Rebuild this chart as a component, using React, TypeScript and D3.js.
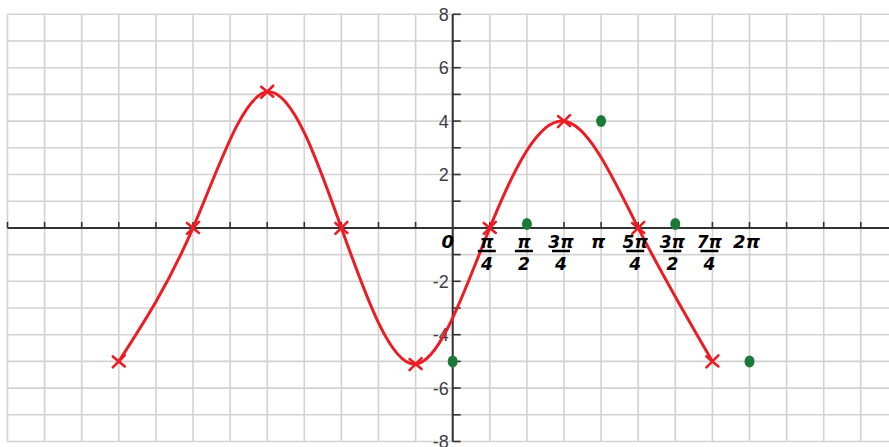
import React from "react";
import * as d3 from "d3";

// Sketched curve: x in grid units (each unit is π/4), y value
const curveX = [-9, -7, -5, -3, -1, 1, 3, 5, 7];
const curveY = [-5, 0, 5.1, 0, -5.1, 0, 4, 0, -5];

// Green plotted points
const dotX = [0, 2, 4, 6, 8];
const dotY = [-5, 0.15, 4, 0.15, -5];

// Printed y-axis tick labels
const yLabels = [8, 6, 4, 2, -2, -4, -6, -8];

// Handwritten x labels (numerator / optional denominator)
const xLabelPos = [0, 1, 2, 3, 4, 5, 6, 7, 8];
const xLabelNum = ["0", "π", "π", "3π", "π", "5π", "3π", "7π", "2π"];
const xLabelDen = ["", "4", "2", "4", "", "4", "2", "4", ""];

const W = 889;
const H = 447;

export default function App() {
  const x = d3.scaleLinear().domain([-12, 12]).range([7.5, 897.9]);
  const y = d3.scaleLinear().domain([-8, 8]).range([441.5, 14.3]);

  const gridX = d3.range(-12, 12);
  const gridY = d3.range(-8, 9);

  const pts: [number, number][] = curveX.map((v, i) => [x(v), y(curveY[i])]);
  const line = d3.line().curve(d3.curveNatural)(pts) || "";

  const red = "#ec1c24";
  const green = "#1b7a37";
  const axis = "#333333";

  return (
    <svg
      width={W}
      height={H}
      style={{ position: "absolute", left: 0, top: 0, background: "#fff" }}
    >
      {/* grid */}
      <g stroke="#d2d2d2" strokeWidth={1.6}>
        {gridX.map((g) => (
          <line key={"gx" + g} x1={x(g)} x2={x(g)} y1={y(8)} y2={y(-8)} />
        ))}
        {gridY.map((g) => (
          <line key={"gy" + g} x1={x(-12)} x2={W} y1={y(g)} y2={y(g)} />
        ))}
      </g>

      {/* x axis with upward ticks */}
      <g stroke={axis}>
        <line x1={x(-12)} x2={W} y1={y(0)} y2={y(0)} strokeWidth={2} />
        {gridX.map((g) =>
          g === 0 ? null : (
            <line key={"tx" + g} x1={x(g)} x2={x(g)} y1={y(0)} y2={y(0) - 6} strokeWidth={1.6} />
          )
        )}
      </g>

      {/* y axis with ticks to the right */}
      <g stroke={axis}>
        <line x1={x(0)} x2={x(0)} y1={y(8)} y2={y(-8)} strokeWidth={2} />
        {gridY.map((g) => (
          <line key={"ty" + g} x1={x(0)} x2={x(0) + 8} y1={y(g)} y2={y(g)} strokeWidth={1.6} />
        ))}
      </g>

      {/* y labels */}
      <g
        fontFamily="Liberation Sans, Arial, sans-serif"
        fontSize={18}
        fill="#3d3d4a"
        textAnchor="end"
      >
        {yLabels.map((v) => (
          <text key={"yl" + v} x={x(0) - 4} y={y(v) + 6.5}>
            {v}
          </text>
        ))}
      </g>

      {/* sketched curve */}
      <path d={line} fill="none" stroke={red} strokeWidth={3} strokeLinecap="round" />
      <g stroke={red} strokeWidth={2.6} strokeLinecap="round">
        {pts.map(([px, py], i) => (
          <g key={"m" + i}>
            <line x1={px - 6} y1={py - 5} x2={px + 6} y2={py + 5} />
            <line x1={px + 6} y1={py - 6} x2={px - 6} y2={py + 6} />
          </g>
        ))}
      </g>

      {/* green points */}
      <g fill={green}>
        {dotX.map((v, i) => (
          <ellipse key={"d" + i} cx={x(v)} cy={y(dotY[i])} rx={5} ry={6} />
        ))}
      </g>

      {/* handwritten labels */}
      <g
        fontFamily="DejaVu Sans, sans-serif"
        fontWeight="bold"
        fontStyle="italic"
        fill="#000"
        textAnchor="middle"
      >
        {xLabelPos.map((v, i) => {
          const cx = v === 0 ? x(v) - 5 : x(v) - 3;
          if (!xLabelDen[i]) {
            return (
              <text key={"xl" + i} x={cx} y={248} fontSize={18}>
                {xLabelNum[i]}
              </text>
            );
          }
          return (
            <g key={"xl" + i}>
              <text x={cx} y={248} fontSize={17}>
                {xLabelNum[i]}
              </text>
              <line x1={cx - 9} x2={cx + 9} y1={251} y2={251} stroke="#000" strokeWidth={2.5} />
              <text x={cx} y={270} fontSize={17}>
                {xLabelDen[i]}
              </text>
            </g>
          );
        })}
      </g>
    </svg>
  );
}
